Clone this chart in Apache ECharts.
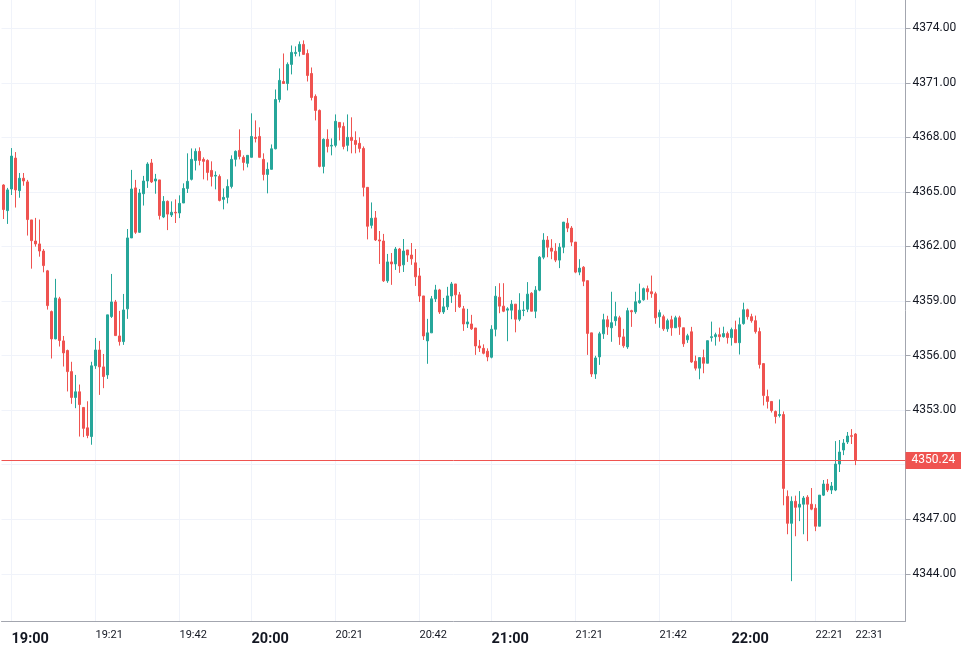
<!DOCTYPE html>
<html><head><meta charset="utf-8">
<script src="https://cdn.jsdelivr.net/npm/echarts@6/dist/echarts.min.js"></script>
<style>html,body{margin:0;padding:0;background:#fff}#c{width:961px;height:647px}</style>
</head><body><div id="c"></div>
<script>
const times = [
'18:58','18:59',
'19:00','19:01','19:02','19:03','19:04','19:05','19:06','19:07','19:08','19:09',
'19:10','19:11','19:12','19:13','19:14','19:15','19:16','19:17','19:18','19:19',
'19:20','19:21','19:22','19:23','19:24','19:25','19:26','19:27','19:28','19:29',
'19:30','19:31','19:32','19:33','19:34','19:35','19:36','19:37','19:38','19:39',
'19:40','19:41','19:42','19:43','19:44','19:45','19:46','19:47','19:48','19:49',
'19:50','19:51','19:52','19:53','19:54','19:55','19:56','19:57','19:58','19:59',
'20:00','20:01','20:02','20:03','20:04','20:05','20:06','20:07','20:08','20:09',
'20:10','20:11','20:12','20:13','20:14','20:15','20:16','20:17','20:18','20:19',
'20:20','20:21','20:22','20:23','20:24','20:25','20:26','20:27','20:28','20:29',
'20:30','20:31','20:32','20:33','20:34','20:35','20:36','20:37','20:38','20:39',
'20:40','20:41','20:42','20:43','20:44','20:45','20:46','20:47','20:48','20:49',
'20:50','20:51','20:52','20:53','20:54','20:55','20:56','20:57','20:58','20:59',
'21:00','21:01','21:02','21:03','21:04','21:05','21:06','21:07','21:08','21:09',
'21:10','21:11','21:12','21:13','21:14','21:15','21:16','21:17','21:18','21:19',
'21:20','21:21','21:22','21:23','21:24','21:25','21:26','21:27','21:28','21:29',
'21:30','21:31','21:32','21:33','21:34','21:35','21:36','21:37','21:38','21:39',
'21:40','21:41','21:42','21:43','21:44','21:45','21:46','21:47','21:48','21:49',
'21:50','21:51','21:52','21:53','21:54','21:55','21:56','21:57','21:58','21:59',
'22:00','22:01','22:02','22:03','22:04','22:05','22:06','22:07','22:08','22:09',
'22:10','22:11','22:12','22:13','22:14','22:15','22:16','22:17','22:18','22:19',
'22:20','22:21','22:22','22:23','22:24','22:25','22:26','22:27','22:28','22:29',
'22:30','22:31','22:32','22:33','22:34','22:35','22:36','22:37','22:38','22:39',
'22:40','22:41','22:42','22:43'
];
const opens = [
4365.38,4363.97,
4365.16,4366.86,4365.07,4365.75,4365.55,4363.46,4362.30,4362.14,4361.75,4360.66,
4358.42,4356.92,4359.12,4356.81,4356.28,4355.12,4353.70,4354.01,4353.15,4352.03,
4351.55,4355.44,4356.31,4355.38,4354.94,4358.15,4358.95,4357.08,4356.77,4358.57,
4362.47,4365.22,4362.78,4364.90,4365.60,4366.59,4365.60,4365.66,4363.62,4364.48,
4363.73,4363.88,4363.84,4364.39,4365.19,4365.69,4366.73,4367.23,4366.79,4366.73,
4366.18,4365.87,4365.85,4364.59,4364.70,4365.30,4366.79,4367.28,4366.90,4366.57,
4366.90,4368.00,4368.05,4366.79,4365.96,4366.24,4367.37,4370.08,4371.07,4370.96,
4372.01,4372.61,4372.72,4373.11,4372.61,4371.51,4370.25,4369.48,4366.40,4367.89,
4367.52,4367.56,4368.82,4368.60,4367.56,4368.00,4367.83,4367.67,4367.39,4365.25,
4363.16,4363.57,4362.36,4362.30,4360.11,4361.15,4361.04,4361.86,4360.99,4361.81,
4361.53,4361.10,4360.38,4359.28,4356.81,4357.25,4359.12,4359.61,4358.40,4358.68,
4359.28,4359.94,4359.34,4358.57,4357.74,4357.74,4357.52,4356.53,4356.40,4356.24,
4355.91,4357.45,4359.21,4358.72,4358.50,4358.50,4358.83,4358.00,4358.48,4358.55,
4359.43,4358.44,4359.60,4361.41,4362.35,4361.91,4361.74,4361.25,4361.96,4363.28,
4363.01,4362.24,4360.59,4360.86,4360.12,4357.25,4354.99,4355.93,4357.20,4357.97,
4357.53,4357.92,4358.08,4357.03,4356.48,4358.47,4358.41,4358.91,4359.07,4359.68,
4359.51,4359.40,4358.14,4358.14,4357.47,4357.97,4357.53,4358.08,4357.53,4356.87,
4357.31,4355.69,4355.31,4355.89,4355.58,4356.99,4357.04,4357.15,4357.04,4357.21,
4356.99,4357.43,4356.71,4357.76,4358.52,4358.14,4357.92,4357.32,4355.56,4353.75,
4353.48,4352.93,4352.71,4352.76,4348.26,4346.78,4347.99,4347.67,4347.83,4348.22,
4347.83,4347.61,4346.62,4348.33,4348.94,4348.61,4348.61,4350.04,4350.81,4351.25,
4351.60,4351.69
];
const closes = [
4364.03,4365.11,
4366.97,4365.11,4365.75,4365.60,4363.48,4362.32,4362.14,4361.75,4360.95,4358.75,
4356.92,4359.17,4356.83,4356.15,4355.12,4353.70,4354.01,4353.31,4352.00,4351.61,
4355.44,4356.31,4355.38,4354.85,4358.24,4358.95,4357.10,4356.77,4358.51,4362.47,
4365.16,4362.78,4364.94,4365.60,4366.53,4365.55,4365.71,4363.70,4364.48,4363.78,
4363.88,4363.84,4364.37,4365.19,4365.58,4366.79,4367.23,4366.73,4366.68,4366.07,
4365.85,4365.91,4364.53,4364.70,4365.30,4366.79,4367.23,4366.95,4366.62,4367.01,
4368.05,4367.94,4366.90,4365.96,4366.24,4367.37,4370.08,4371.13,4370.96,4372.01,
4372.67,4372.67,4373.11,4372.56,4371.40,4370.19,4369.48,4366.40,4367.89,4367.50,
4367.56,4368.88,4368.55,4367.50,4368.00,4367.83,4367.61,4367.39,4365.25,4363.11,
4363.55,4362.36,4362.30,4360.11,4361.15,4361.04,4361.86,4360.93,4361.75,4361.53,
4361.32,4360.33,4359.28,4357.08,4357.25,4359.12,4359.61,4358.40,4358.68,4359.28,
4359.94,4359.34,4358.68,4357.74,4357.85,4357.47,4356.53,4356.42,4356.13,4355.93,
4357.45,4359.27,4358.72,4358.44,4358.57,4358.83,4358.00,4358.50,4358.51,4359.38,
4358.44,4359.60,4361.41,4362.35,4361.96,4361.74,4361.25,4361.96,4363.34,4363.01,
4362.24,4360.59,4360.81,4360.09,4357.22,4354.99,4355.87,4357.20,4357.97,4357.58,
4357.81,4358.14,4357.03,4356.54,4358.47,4358.41,4358.96,4359.02,4359.68,4359.51,
4359.40,4358.08,4358.36,4357.47,4357.92,4357.53,4358.08,4357.58,4356.65,4357.09,
4355.65,4355.31,4355.89,4355.58,4356.82,4357.04,4357.15,4357.04,4357.21,4356.99,
4357.43,4356.71,4357.70,4358.52,4358.14,4357.92,4357.32,4355.51,4353.81,4353.48,
4352.98,4352.65,4352.76,4348.70,4346.78,4347.99,4347.66,4347.83,4348.17,4347.83,
4347.56,4346.62,4348.33,4348.94,4348.61,4348.83,4350.04,4350.70,4351.19,4351.58,
4351.56,4350.24
];
const lows = [
4363.51,4363.24,
4364.83,4364.14,4364.68,4365.34,4362.60,4360.78,4361.99,4361.44,4360.58,4358.53,
4355.84,4356.90,4356.50,4355.40,4354.03,4353.35,4353.11,4351.55,4351.52,4351.46,
4351.10,4355.27,4353.84,4354.21,4354.72,4358.07,4357.10,4356.55,4356.59,4358.02,
4362.47,4362.69,4362.74,4364.25,4365.22,4365.49,4364.90,4363.48,4363.56,4362.90,
4363.62,4363.29,4363.56,4364.39,4364.94,4365.63,4366.18,4366.46,4365.69,4365.63,
4365.30,4365.14,4364.48,4364.04,4364.37,4365.19,4366.40,4366.79,4366.18,4366.35,
4366.90,4367.72,4366.90,4365.63,4364.92,4366.24,4367.34,4369.92,4370.96,4370.58,
4371.46,4372.45,4372.45,4372.56,4371.07,4370.03,4368.93,4366.35,4366.02,4367.17,
4367.01,4367.45,4367.83,4367.34,4367.23,4367.12,4367.12,4367.17,4364.75,4362.39,
4362.99,4362.30,4361.04,4360.05,4360.00,4359.89,4360.71,4360.55,4360.60,4361.15,
4360.99,4359.83,4358.95,4356.86,4355.55,4357.25,4358.95,4358.29,4358.29,4358.51,
4358.90,4358.40,4358.62,4357.36,4357.52,4357.41,4356.04,4356.20,4356.07,4355.69,
4355.85,4357.06,4358.33,4358.39,4356.79,4358.00,4357.28,4357.89,4358.17,4358.39,
4358.44,4358.06,4359.54,4361.30,4361.41,4361.30,4361.14,4360.81,4361.63,4362.79,
4362.02,4360.53,4360.42,4359.82,4356.04,4354.83,4354.72,4355.49,4356.92,4357.14,
4356.76,4357.64,4356.59,4356.43,4356.37,4357.58,4358.30,4358.85,4359.02,4359.07,
4359.18,4357.75,4357.53,4357.36,4357.31,4357.09,4357.53,4357.14,4356.48,4356.70,
4355.60,4355.18,4354.70,4355.03,4355.58,4356.77,4356.55,4356.77,4356.99,4356.66,
4356.55,4356.71,4356.06,4357.70,4357.98,4357.81,4357.21,4355.29,4353.26,4353.09,
4352.87,4352.27,4352.60,4347.77,4346.18,4343.60,4346.07,4346.90,4346.18,4345.80,
4347.50,4346.35,4346.62,4348.28,4348.50,4348.39,4348.55,4349.60,4350.53,4351.14,
4351.14,4349.98
];
const highs = [
4365.42,4365.22,
4367.41,4367.19,4366.04,4366.04,4365.66,4363.46,4363.57,4363.48,4361.86,4360.71,
4358.48,4360.22,4359.23,4357.08,4356.33,4355.66,4354.94,4354.41,4353.15,4353.49,
4355.66,4356.97,4356.81,4356.09,4358.24,4360.49,4359.06,4358.46,4359.39,4362.96,
4366.21,4365.66,4365.16,4365.88,4366.63,4366.81,4365.99,4365.66,4364.77,4364.53,
4364.48,4364.59,4364.81,4365.47,4367.12,4367.39,4367.39,4367.45,4366.90,4366.79,
4366.68,4366.13,4365.96,4365.19,4365.69,4367.01,4367.28,4368.44,4367.01,4367.01,
4369.32,4368.93,4368.55,4367.12,4366.62,4367.61,4370.63,4371.79,4372.61,4372.12,
4373.05,4373.00,4373.27,4373.33,4372.83,4371.84,4370.36,4369.53,4367.94,4368.44,
4367.94,4369.26,4368.82,4368.82,4369.26,4369.10,4368.33,4368.00,4367.50,4365.25,
4364.42,4363.95,4362.85,4362.69,4361.59,4361.64,4361.97,4361.92,4362.41,4361.81,
4362.19,4361.86,4360.82,4359.28,4358.02,4359.28,4359.89,4359.67,4359.17,4359.78,
4360.05,4359.94,4359.50,4358.73,4358.57,4358.24,4357.52,4356.86,4356.62,4356.40,
4357.67,4359.82,4359.98,4359.98,4358.66,4359.05,4358.83,4359.43,4358.99,4360.04,
4359.49,4359.82,4361.47,4362.73,4362.57,4362.40,4362.18,4362.18,4363.34,4363.56,
4363.12,4362.24,4361.30,4360.92,4360.12,4357.25,4355.99,4357.31,4358.30,4358.19,
4359.51,4358.96,4358.19,4357.47,4358.63,4358.52,4359.51,4359.96,4359.74,4359.85,
4360.40,4359.51,4358.52,4358.25,4358.03,4358.19,4358.19,4358.19,4357.53,4357.20,
4357.58,4356.00,4355.89,4356.33,4356.82,4357.87,4357.26,4357.54,4357.59,4357.32,
4357.54,4357.92,4358.09,4358.91,4358.58,4358.30,4358.20,4357.54,4355.56,4354.13,
4353.48,4352.98,4353.59,4352.93,4348.59,4348.26,4348.30,4348.55,4348.28,4348.33,
4348.72,4347.83,4348.33,4349.16,4349.21,4349.05,4351.30,4351.36,4351.41,4351.80,
4351.96,4351.74
];
const xTickLabels = ['19:00','19:21','19:42','20:00','20:21','20:42','21:00','21:21','21:42','22:00','22:21','22:31'];
const yTickValues = [4344,4347,4350,4353,4356,4359,4362,4365,4368,4371,4374];
const lastPrice = 4350.24;

const candles = times.map((t, i) => i < opens.length ? [opens[i], closes[i], lows[i], highs[i]] : '-');
const tickSet = new Set(xTickLabels);
const showTick = (i, v) => tickSet.has(v);
const FONT = 'Roboto, "Liberation Sans", sans-serif';

const chart = echarts.init(document.getElementById('c'), null, {renderer: 'canvas'});
chart.setOption({
  animation: false,
  backgroundColor: '#ffffff',
  grid: {left: 1.5, right: 55.5, top: 0, bottom: 24},
  xAxis: {
    type: 'category', data: times, boundaryGap: true,
    axisLine: {lineStyle: {color: '#a3a6af', width: 1}},
    axisTick: {alignWithLabel: true, length: 4, interval: showTick, lineStyle: {color: '#a3a6af'}},
    axisLabel: {
      interval: showTick, align: 'left', margin: 9,
      formatter: v => v.endsWith(':00') ? '{b|' + v + '}' : '{n|' + v + '}',
      rich: {
        b: {fontSize: 14.5, fontWeight: 'bold', color: '#131722', fontFamily: FONT, padding: [2, 0, 0, 0]},
        n: {fontSize: 11, color: '#131722', fontFamily: FONT}
      }
    },
    splitLine: {show: true, alignWithLabel: true, interval: showTick, lineStyle: {color: '#f0f3fa', width: 1}}
  },
  yAxis: {
    type: 'value', position: 'right', min: 4341.41, max: 4375.55,
    axisLine: {show: true, lineStyle: {color: '#a3a6af', width: 1}},
    axisTick: {show: true, length: 5, customValues: yTickValues, lineStyle: {color: '#a3a6af'}},
    axisLabel: {customValues: yTickValues, margin: 7, formatter: v => v.toFixed(2), color: '#131722', fontSize: 12, fontFamily: FONT},
    splitLine: {show: true, lineStyle: {color: '#f0f3fa', width: 1}}
  },
  series: [{
    type: 'candlestick', data: candles, barWidth: 2,
    itemStyle: {color: '#26a69a', color0: '#ef5350', borderColor: '#26a69a', borderColor0: '#ef5350', borderWidth: 1},
    markLine: {
      silent: true, symbol: ['none', 'none'],
      data: [{yAxis: lastPrice}],
      lineStyle: {color: '#ef5350', width: 1, type: 'solid'},
      label: {position: 'end', distance: 0, formatter: p => p.value.toFixed(2), color: '#ffffff', backgroundColor: '#ef5350', padding: [3, 6, 2, 6], fontSize: 12, fontFamily: FONT}
    }
  }]
});
</script></body></html>
